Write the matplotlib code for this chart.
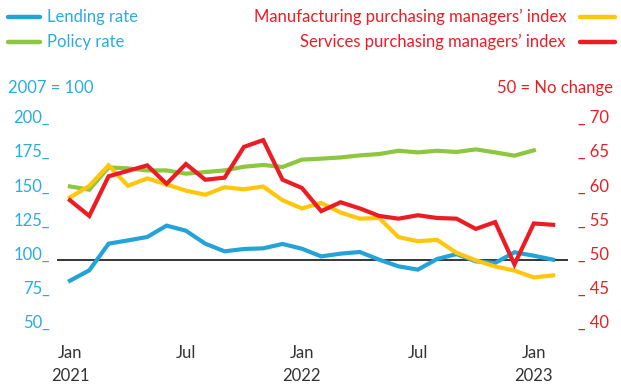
import matplotlib
matplotlib.use("Agg")
import matplotlib.pyplot as plt
from matplotlib.lines import Line2D

plt.rcParams['font.family'] = ['Lato', 'DejaVu Sans']

months = ["Jan 2021", "Feb", "Mar", "Apr", "May", "Jun", "Jul", "Aug", "Sep", "Oct", "Nov", "Dec",
          "Jan 2022", "Feb", "Mar", "Apr", "May", "Jun", "Jul", "Aug", "Sep", "Oct", "Nov", "Dec",
          "Jan 2023", "Feb"]

lending_rate = [84.6, 92.2, 111.7, 114.1, 116.6, 124.9, 121.2, 111.7, 106.1, 107.8, 108.3, 111.5,
                108.0, 102.4, 104.4, 105.6, 100.0, 95.1, 92.7, 100.5, 104.1, 98.8, 97.6, 105.4,
                102.9, 100.0]
policy_rate = [153.6, 151.2, 167.5, 166.8, 165.3, 165.3, 162.9, 164.1, 165.3, 168.0, 169.3, 167.8,
               173.2, 173.9, 174.8, 176.3, 177.3, 179.7, 178.5, 179.7, 178.8, 180.7, 178.5, 176.1,
               180.0]
manufacturing_pmi = [59.1, 60.8, 63.8, 60.8, 61.9, 61.0, 60.1, 59.5, 60.6, 60.3, 60.7, 58.7,
                     57.5, 58.3, 56.9, 56.0, 56.1, 53.3, 52.7, 52.9, 51.0, 49.9, 49.0, 48.4,
                     47.4, 47.7]
services_pmi = [58.7, 56.4, 62.2, 63.0, 63.8, 61.1, 64.0, 61.7, 62.0, 66.5, 67.5, 61.7,
                60.5, 57.1, 58.4, 57.5, 56.4, 56.0, 56.5, 56.1, 56.0, 54.5, 55.5, 49.3,
                55.3, 55.1]

left_ticks = [50, 75, 100, 125, 150, 175, 200]
right_ticks = [40, 45, 50, 55, 60, 65, 70]
x_tick_pos = [0, 6, 12, 18, 24]
x_tick_labels = ["Jan\n2021", "Jul", "Jan\n2022", "Jul", "Jan\n2023"]

BLUE = "#24A3D9"
BLUE_TXT = "#2AABE2"
GREEN = "#8DC63F"
YELLOW = "#FFC60B"
RED = "#EC1C24"
TXT = "#333333"

W, H = 621, 385
fig = plt.figure(figsize=(W / 100, H / 100), dpi=100)
ax = fig.add_axes([57 / W, 1 - 328 / H, (568 - 57) / W, (328 - 123) / H])
ax2 = ax.twinx()

x = list(range(len(months)))
lw = 3.0
ax.axhline(100, color="black", lw=1.1, zorder=1)
ax.plot(x[:len(lending_rate)], lending_rate, color=BLUE, lw=lw, solid_joinstyle="miter", zorder=3)
ax.plot(x[:len(policy_rate)], policy_rate, color=GREEN, lw=lw, solid_joinstyle="miter", zorder=3)
ax2.plot(x[:len(manufacturing_pmi)], manufacturing_pmi, color=YELLOW, lw=lw, solid_joinstyle="miter", zorder=3)
ax2.plot(x[:len(services_pmi)], services_pmi, color=RED, lw=lw, solid_joinstyle="miter", zorder=4)

ax.set_xlim(-0.67, 25.77)
ax.set_ylim(50, 200)
ax2.set_ylim(40, 70)

for a in (ax, ax2):
    for s in a.spines.values():
        s.set_visible(False)

ax.set_yticks(left_ticks)
ax.set_yticklabels([f"{v}_" for v in left_ticks])
ax.tick_params(axis="y", length=0, pad=5, labelsize=12, labelcolor=BLUE_TXT)
for lbl in ax.get_yticklabels():
    lbl.set_va("baseline")

ax2.set_yticks(right_ticks)
ax2.set_yticklabels([f"_ {v}" for v in right_ticks])
ax2.tick_params(axis="y", length=0, pad=7, labelsize=12, labelcolor=RED)
for lbl in ax2.get_yticklabels():
    lbl.set_va("baseline")

ax.set_xticks(x_tick_pos)
ax.set_xticklabels(x_tick_labels, linespacing=1.6)
ax.tick_params(axis="x", length=0, pad=12, labelsize=12, labelcolor=TXT)

# Legend
def fy(y):
    return 1 - y / H

def fx(xp):
    return xp / W

legend_items = [
    (8, 40, 17, BLUE, "Lending rate", 47, "left", BLUE_TXT),
    (8, 40, 42, GREEN, "Policy rate", 47, "left", BLUE_TXT),
    (580, 615, 17, YELLOW, "Manufacturing purchasing managers\u2019 index", 566, "right", RED),
    (580, 615, 42, RED, "Services purchasing managers\u2019 index", 566, "right", RED),
]
for x0, x1, yy, col, label, tx, ha, tcol in legend_items:
    fig.add_artist(Line2D([fx(x0), fx(x1)], [fy(yy), fy(yy)], color=col, lw=3.2,
                          solid_capstyle="round", transform=fig.transFigure))
    fig.text(fx(tx), fy(yy), label, ha=ha, va="center", fontsize=12, color=tcol)

fig.text(fx(8), fy(88), "2007 = 100", ha="left", va="center", fontsize=12, color=BLUE_TXT)
fig.text(fx(613), fy(88), "50 = No change", ha="right", va="center", fontsize=12, color=RED)

fig.savefig("out.png", dpi=100)
